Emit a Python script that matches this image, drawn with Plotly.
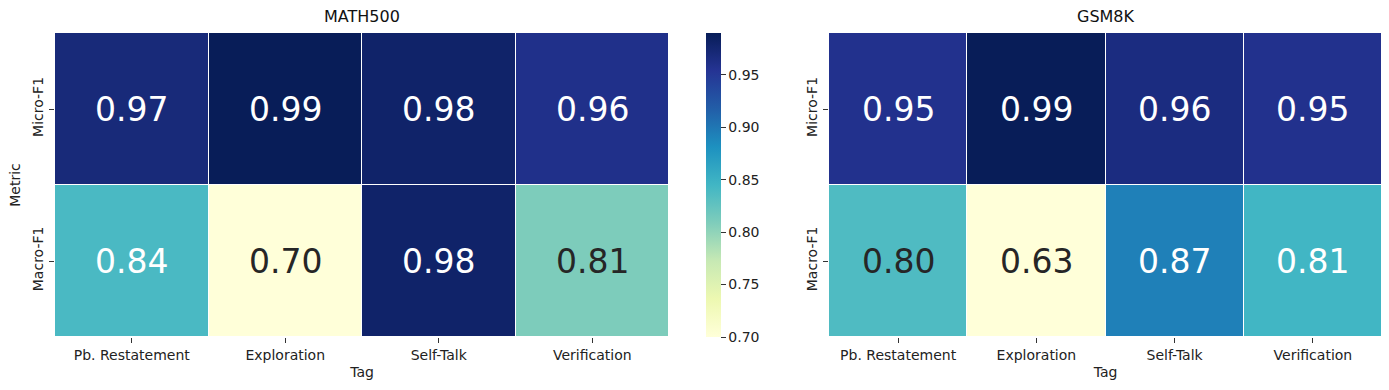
import plotly.graph_objects as go
import plotly.colors as pc

tags = ["Pb. Restatement", "Exploration", "Self-Talk", "Verification"]
metrics = ["Micro-F1", "Macro-F1"]

math500_micro = [0.97, 0.99, 0.98, 0.96]
math500_macro = [0.84, 0.70, 0.98, 0.81]
gsm8k_micro = [0.95, 0.99, 0.96, 0.95]
gsm8k_macro = [0.80, 0.63, 0.87, 0.81]

cbar_ticks = [0.70, 0.75, 0.80, 0.85, 0.90, 0.95]

YLGNBU = pc.sequential.YlGnBu
FONT = "DejaVu Sans"
W, H = 1389, 390


def text_colors(z):
    # seaborn-style: white text on dark cells, dark text on light cells
    lo = min(min(r) for r in z)
    hi = max(max(r) for r in z)
    out = []
    for row in z:
        line = []
        for v in row:
            t = (v - lo) / (hi - lo)
            c = pc.sample_colorscale(YLGNBU, [t])[0]
            r, g, b = pc.unlabel_rgb(c)
            lin = []
            for ch in (r, g, b):
                ch = ch / 255
                lin.append(ch / 12.92 if ch <= 0.03928 else ((ch + 0.055) / 1.055) ** 2.4)
            lum = 0.2126 * lin[0] + 0.7152 * lin[1] + 0.0722 * lin[2]
            line.append("white" if lum < 0.408 else "#262626")
        out.append(line)
    return out


def add_heat(fig, z, xa, ya, show_scale):
    fig.add_trace(go.Heatmap(
        z=z, x=tags, y=metrics, xaxis=xa, yaxis=ya,
        colorscale=YLGNBU, xgap=1, ygap=1,
        showscale=show_scale,
        colorbar=dict(
            x=706 / W, xanchor="left", y=(390 - 185) / H, yanchor="middle",
            len=304 / H, lenmode="fraction", thickness=15, outlinewidth=0,
            xpad=0, ypad=0,
            tickvals=cbar_ticks, tickformat=".2f", ticks="outside", ticklen=5,
            tickcolor="#333", tickfont=dict(family=FONT, size=14, color="#222"),
        ),
        hoverinfo="skip",
    ))
    cols = text_colors(z)
    for i, m in enumerate(metrics):
        for j, t in enumerate(tags):
            fig.add_annotation(
                x=t, y=m, xref=xa, yref=ya, text=f"{z[i][j]:.2f}", showarrow=False,
                font=dict(family=FONT, size=33, color=cols[i][j]),
            )


fig = go.Figure()
add_heat(fig, [math500_micro, math500_macro], "x", "y", True)
add_heat(fig, [gsm8k_micro, gsm8k_macro], "x2", "y2", False)

ydom = [(390 - 337) / H, (390 - 33) / H]
axis_common = dict(
    showgrid=False, zeroline=False, ticks="outside", ticklen=5, tickwidth=1,
    tickcolor="#333", automargin=False,
    tickfont=dict(family=FONT, size=14, color="#222"), showline=False,
)
fig.update_layout(
    width=W, height=H,
    margin=dict(l=0, r=0, t=0, b=0),
    paper_bgcolor="white", plot_bgcolor="white",
    font=dict(family=FONT, color="#222"),
    xaxis=dict(domain=[55 / W, 669 / W], anchor="y",
               title=dict(text="Tag", font=dict(size=14), standoff=5), **axis_common),
    yaxis=dict(domain=ydom, anchor="x", autorange="reversed", tickangle=-90,
               title=dict(text="Metric", font=dict(size=14), standoff=6), **axis_common),
    xaxis2=dict(domain=[829 / W, 1382 / W], anchor="y2",
                title=dict(text="Tag", font=dict(size=14), standoff=5), **axis_common),
    yaxis2=dict(domain=ydom, anchor="x2", autorange="reversed", tickangle=-90,
                **axis_common),
)
fig.add_annotation(text="MATH500", x=0.5, y=1, xref="x domain", yref="y domain",
                   yanchor="bottom", yshift=5, showarrow=False,
                   font=dict(family=FONT, size=16, color="#111"))
fig.add_annotation(text="GSM8K", x=0.5, y=1, xref="x2 domain", yref="y2 domain",
                   yanchor="bottom", yshift=5, showarrow=False,
                   font=dict(family=FONT, size=16, color="#111"))

# drop the default 8px body margin so the figure sits at the page origin
fig.write_html("out.html", config={"displayModeBar": False},
               post_script="document.body.style.margin='0px';")
